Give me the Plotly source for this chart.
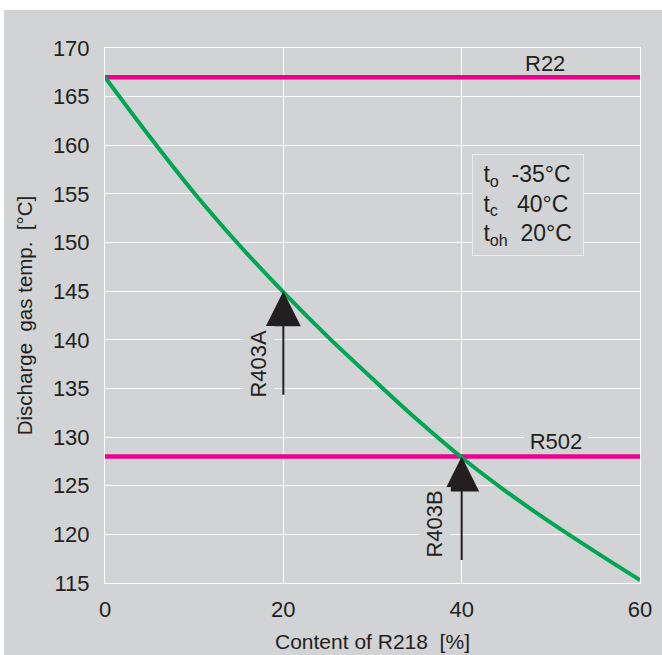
import plotly.graph_objects as go

# ---- data ----
r218_content = [0, 5, 10, 15, 20, 25, 30, 35, 40, 45, 50, 55, 60]
discharge_temp = [167.0, 160.9, 155.1, 149.8, 144.9, 140.3, 136.0, 131.8, 127.9, 124.4, 121.2, 118.2, 115.3]
x_span = [0, 60]
r22_temp = [167.0, 167.0]
r502_temp = [128.0, 128.0]
x_ticks = [0, 20, 40, 60]
y_ticks = [115, 120, 125, 130, 135, 140, 145, 150, 155, 160, 165, 170]

BG = "#d1d3d4"
TXT = "#231f20"
MAG = "#ec008c"
GRN = "#00a651"
FONT = "Liberation Sans, Arial, Helvetica, sans-serif"
NB = "\u00a0"

fig = go.Figure()
fig.add_trace(go.Scatter(x=x_span, y=r22_temp, mode="lines",
                         line=dict(color=MAG, width=4.5), hoverinfo="skip"))
fig.add_trace(go.Scatter(x=x_span, y=r502_temp, mode="lines",
                         line=dict(color=MAG, width=4.5), hoverinfo="skip"))
fig.add_trace(go.Scatter(x=r218_content, y=discharge_temp, mode="lines",
                         line=dict(color=GRN, width=4, shape="spline"), hoverinfo="skip"))

W, H = 662, 655
L, R, T, B = 105, 22, 48, 72
pw, ph = W - L - R, H - T - B

fig.add_shape(type="rect", xref="paper", yref="paper", layer="below",
              x0=(4 - L) / pw, x1=(W - L) / pw,
              y0=-(B) / ph, y1=(H - 10 - B) / ph,
              fillcolor=BG, line=dict(width=0))

ann = []
# Arrows
for xa, ytip, ytail in [(20, 145.0, 134.2), (40, 128.0, 117.2)]:
    ann.append(dict(x=xa, y=ytip, ax=xa, ay=ytail, xref="x", yref="y", axref="x", ayref="y",
                    text="", showarrow=True, arrowhead=2, arrowsize=3.5, arrowwidth=2,
                    arrowcolor=TXT, standoff=0))
# Labels
ann.append(dict(x=49.3, y=168.45, xref="x", yref="y", text="R22", showarrow=False,
                font=dict(size=22, color=TXT, family=FONT)))
ann.append(dict(x=50.6, y=129.5, xref="x", yref="y", text="R502", showarrow=False,
                bgcolor=BG, borderpad=1, width=62, height=21,
                font=dict(size=22, color=TXT, family=FONT)))
ann.append(dict(x=17.2, y=137.6, xref="x", yref="y", text="R403A", showarrow=False, textangle=-90,
                bgcolor=BG, borderpad=3, font=dict(size=22, color=TXT, family=FONT)))
ann.append(dict(x=37.0, y=121.1, xref="x", yref="y", text="R403B", showarrow=False, textangle=-90,
                bgcolor=BG, borderpad=3, font=dict(size=22, color=TXT, family=FONT)))
box_text = (NB + "t<sub>o</sub>" + NB * 2 + "-35°C<br>"
            + NB + "t<sub>c</sub>" + NB * 3 + "40°C<br>"
            + NB + "t<sub>oh</sub>" + NB * 2 + "20°C")
ann.append(dict(x=47.42, y=153.9, xref="x", yref="y", text=box_text,
                showarrow=False, align="left", bgcolor=BG, bordercolor="#ececec", borderwidth=1,
                borderpad=4, width=102, height=92,
                font=dict(size=23, color=TXT, family=FONT)))

fig.update_layout(
    width=W, height=H,
    margin=dict(l=L, r=R, t=T, b=B),
    paper_bgcolor="white", plot_bgcolor=BG,
    showlegend=False,
    font=dict(family=FONT, color=TXT),
    annotations=ann,
)
fig.update_xaxes(range=[0, 60], tickvals=x_ticks, showgrid=True, gridcolor="white", gridwidth=1,
                 zeroline=False, showline=True, mirror=True, linecolor="white", linewidth=1,
                 ticks="", ticklabelstandoff=7, tickfont=dict(size=22, color=TXT), automargin=False,
                 title=dict(text="Content of R218" + NB * 2 + "[%]", font=dict(size=21, color=TXT), standoff=12))
fig.update_yaxes(range=[115, 170], tickvals=y_ticks, showgrid=True, gridcolor="white", gridwidth=1,
                 zeroline=False, showline=True, mirror=True, linecolor="white", linewidth=1,
                 ticks="", ticklabelstandoff=10, tickfont=dict(size=22, color=TXT), automargin=False,
                 title=dict(text="Discharge" + NB * 2 + "gas temp." + NB * 2 + "[°C]",
                            font=dict(size=20.5, color=TXT), standoff=14))

fig.write_html("out.html", config={"displayModeBar": False},
               post_script="document.body.style.margin='0px';")
